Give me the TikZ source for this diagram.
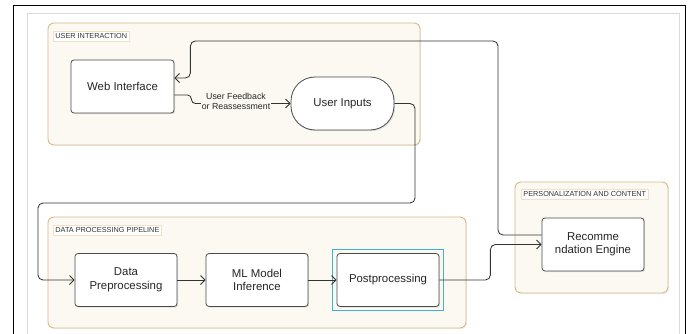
\documentclass[tikz,border=0pt]{standalone}
\usepackage{fontspec}
\setmainfont{Liberation Sans}
\usetikzlibrary{arrows.meta, shadows}

\definecolor{grpfill}{HTML}{FBF9F2}
\definecolor{grpline}{HTML}{D9BA88}
\definecolor{boxline}{HTML}{4A4A4A}
\definecolor{wirecol}{HTML}{333333}
\definecolor{selcyan}{HTML}{3DB3D0}

\tikzset{
  grp/.style={draw=grpline, fill=grpfill, rounded corners=6pt, line width=0.9pt,
    drop shadow={opacity=0.12, shadow xshift=1pt, shadow yshift=-1pt}},
  grplabel/.style={draw=grpline!45, fill=white, anchor=north west, inner sep=2.2pt,
    text=black!80, font=\fontsize{7.3}{8}\selectfont},
  procbox/.style={draw=boxline, fill=white, rounded corners=3pt, line width=0.8pt,
    minimum width=102pt, minimum height=53pt, align=center, text=black!85,
    font=\fontsize{11.4}{13.5}\selectfont,
    drop shadow={opacity=0.2, shadow xshift=1.2pt, shadow yshift=-1.2pt}},
  flow/.style={draw=wirecol, line width=0.85pt, rounded corners=5pt,
    -{Straight Barb[length=4.5pt, width=9pt]}},
}

\begin{document}
\begin{tikzpicture}[x=1pt, y=-1pt]
  \useasboundingbox (0,0) rectangle (688,334);
  % frame and panel
  \draw[black, line width=1pt] (13,6) rectangle (685,345);
  \draw[black!15, fill=white, line width=0.6pt] (27,13) rectangle (679,345);

  % groups
  \draw[grp] (48,23) rectangle (420,145);
  \node[grplabel] (uilabel) at (53,31) {USER INTERACTION};
  \draw[grp] (48,217) rectangle (466,328);
  \node[grplabel] (dplabel) at (53,225) {DATA PROCESSING PIPELINE};
  \draw[grp] (515,182) rectangle (668,293);
  \node[grplabel] (pclabel) at (521,189) {PERSONALIZATION AND CONTENT};

  % nodes
  \node[procbox, minimum width=103pt] (web) at (122.5,86.5) {Web Interface};
  \node[procbox, minimum width=103pt, rounded corners=24pt] (inputs) at (342.5,103.5) {User Inputs};
  \node[procbox] (prep) at (126,280) {Data\\Preprocessing};
  \node[procbox] (infer) at (257,280) {ML Model\\Inference};
  \node[procbox] (post) at (388,280) {Postprocessing};
  \node[procbox] (rec) at (593,244.5) {Recomme\\ndation Engine};
  \draw[selcyan, line width=1pt] (332,249) rectangle (443,310);

  % connectors
  \draw[flow, rounded corners=4pt] ([yshift=-8.5pt]web.east) -- ++(17,0) |- (inputs.west);
  \node[fill=grpfill, inner sep=0.6pt, align=center, text=black!85,
    font=\fontsize{8.8}{10.5}\selectfont] (fblabel) at (236,101.5) {User Feedback\\or Reassessment};
  \draw[flow] ([yshift=9.5pt]rec.west) -| (498,41) -| ([xshift=16pt,yshift=8.5pt]web.east)
    -- ([yshift=8.5pt]web.east);
  \draw[flow] (inputs.east) -| (415,203) -| (38,280) -- (prep.west);
  \draw[flow] (prep) -- (infer);
  \draw[flow] (infer) -- (post);
  \draw[flow] (post.east) -- ++(51,0) |- (rec.west);
\end{tikzpicture}
\end{document}
